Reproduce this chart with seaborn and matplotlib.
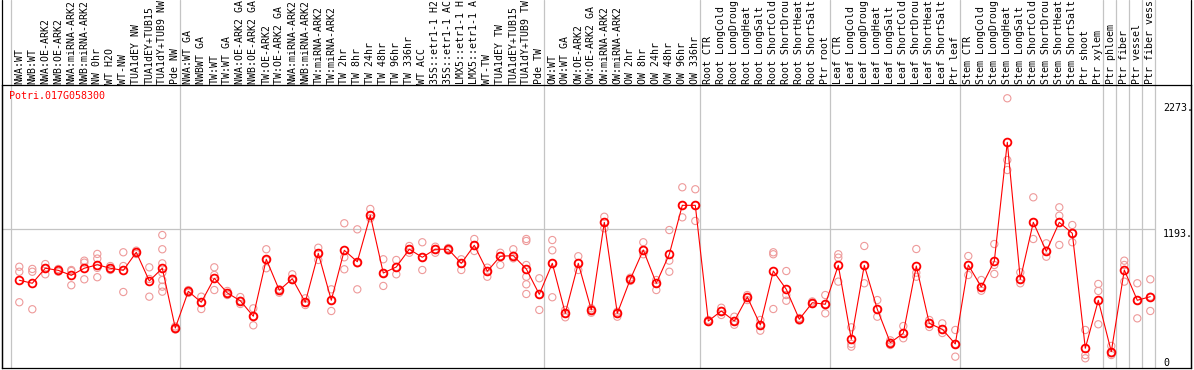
import numpy as np
import pandas as pd
import matplotlib
matplotlib.use("Agg")
import matplotlib.pyplot as plt
import matplotlib.transforms as mtransforms
import seaborn as sns

# ---------------- data ----------------
title = "Potri.017G058300"

# header labels as far as they are visible in the reference (cut at the top edge)
labels = [
    "NWA:WT", "NWB:WT", "NWA:OE-ARK2", "NWB:OE-ARK2", "NWA:miRNA-ARK2", "NWB:miRNA-ARK2",
    "NW 0hr", "WT H2O", "WT-NW", "TUA1dEY NW", "TUA1dEY+TUB15", "TUA1dY+TUB9 NW", "Pde NW",
    "NWA:WT GA", "NWBWT GA", "TW:WT", "TW:WT GA", "NWA:OE-ARK2 GA", "NWB:OE-ARK2 GA",
    "TW:OE-ARK2", "TW:OE-ARK2 GA", "NWA:miRNA-ARK2", "NWB:miRNA-ARK2", "TW:miRNA-ARK2",
    "TW:miRNA-ARK2", "TW 2hr", "TW 8hr", "TW 24hr", "TW 48hr", "TW 96hr", "TW 336hr",
    "WT ACC", "35S::etr1-1 H2", "35S::etr1-1 AC", "LMX5::etr1-1 H", "LMX5::etr1-1 A",
    "WT-TW", "TUA1dEY TW", "TUA1dEY+TUB15", "TUA1dY+TUB9 TW", "Pde TW",
    "OW:WT", "OW:WT GA", "OW:OE-ARK2", "OW:OE-ARK2 GA", "OW:miRNA-ARK2", "OW:miRNA-ARK2",
    "OW 2hr", "OW 8hr", "OW 24hr", "OW 48hr", "OW 96hr", "OW 336hr",
    "Root CTR", "Root LongCold", "Root LongDroug", "Root LongHeat", "Root LongSalt",
    "Root ShortCold", "Root ShortDrou", "Root ShortHeat", "Root ShortSalt", "Ptr root",
    "Leaf CTR", "Leaf LongCold", "Leaf LongDroug", "Leaf LongHeat", "Leaf LongSalt",
    "Leaf ShortCold", "Leaf ShortDrou", "Leaf ShortHeat", "Leaf ShortSalt", "Ptr leaf",
    "Stem CTR", "Stem LongCold", "Stem LongDroug", "Stem LongHeat", "Stem LongSalt",
    "Stem ShortCold", "Stem ShortDrou", "Stem ShortHeat", "Stem ShortSalt", "Ptr shoot",
    "Ptr xylem", "Ptr phloem", "Ptr fiber", "Ptr vessel", "Ptr fiber vess",
]

group_starts = [0, 13, 41, 53, 63, 73, 84, 85, 86, 87, 88]

means = [
    749, 723, 852, 834, 791, 852, 882, 852, 834, 989, 743, 852, 339,
    654, 560, 766, 640, 573, 440, 929, 663, 762, 560, 980, 577, 1006, 908, 1306, 811, 863,
    1015, 946, 1015, 1015, 894, 1049, 826, 955, 960, 846, 628,
    894, 465, 894, 494, 1246, 465, 757, 1009, 723, 972, 1392, 1392,
    399, 485, 399, 605, 365, 828, 671, 414, 556, 543,
    877, 242, 877, 500, 213, 294, 871, 379, 328, 202,
    880, 691, 912, 1933, 757, 1246, 997, 1246, 1152, 165, 577,
    136, 837, 577, 608,
]

replicates = [
    [865, 822, 560], [846, 822, 500], [888, 852, 800], [846, 834, 822], [837, 828, 706],
    [917, 900, 757], [975, 935, 855, 775], [871, 852, 837], [989, 871, 648], [1003, 989, 974],
    [860, 760, 608], [1137, 1015, 894, 814, 751, 694, 651], [352, 339, 326],
    [665, 654, 640], [608, 560, 502], [860, 794, 665], [657, 640, 622], [605, 573, 545],
    [508, 440, 362], [1015, 920, 852], [671, 663, 642], [800, 762, 751], [594, 560, 536],
    [1028, 980, 923], [671, 577, 485], [1238, 946, 843], [1186, 894, 671], [1361, 1306, 1281],
    [929, 811, 700], [923, 863, 800], [1043, 1015, 985], [1075, 946, 837], [1037, 1015, 985],
    [1026, 1015, 1004], [929, 894, 837], [1103, 1049, 1000], [857, 826, 779], [985, 955, 880],
    [1015, 960, 937], [1103, 1086, 880, 779, 714, 631], [766, 628, 494],
    [1094, 1006, 894, 603], [494, 465, 431], [955, 894, 837], [508, 494, 470],
    [1294, 1246, 1195], [479, 465, 436], [771, 757, 743], [1075, 1009, 972], [751, 723, 665],
    [1180, 917, 822], [1547, 1392, 1289], [1530, 1392, 1258],
    [408, 399, 391], [513, 485, 451], [436, 399, 367], [622, 605, 579], [408, 365, 316],
    [989, 972, 502], [828, 622, 573], [425, 414, 403], [567, 556, 545], [622, 543, 465],
    [972, 943, 737], [345, 202, 179], [1043, 871, 723], [579, 500, 436], [233, 213, 193],
    [356, 294, 251], [1017, 814, 779], [408, 379, 348], [379, 328, 296], [322, 202, 93],
    [957, 880, 794], [751, 691, 659], [1060, 880, 803], [2311, 1781, 1695], [817, 757, 723],
    [1461, 1246, 1103], [1066, 997, 951], [1375, 1303, 1052], [1223, 1152, 1075],
    [322, 107, 79], [717, 657, 371],
    [185, 122, 107], [917, 880, 737], [723, 577, 422], [757, 608, 485],
]

y_labels = ["2273.", "1193.", "0"]
y_label_values = [2273, 1193, 0]
ref_line_value = 1193

# ---------------- layout ----------------
sns.set_style("white")
plt.rcParams["font.family"] = ["DejaVu Sans Mono", "DejaVu Sans"]

W, H = 1194, 370
fig = plt.figure(figsize=(W / 100, H / 100), dpi=100)
left_px, right_px, top_px, bot_px = 1.5, 1190.7, 85.0, 368.0
ax = fig.add_axes([left_px / W, (H - bot_px) / H,
                   (right_px - left_px) / W, (bot_px - top_px) / H])

x0_px, step_px = 19.3, 13.0
ax.set_xlim((left_px - x0_px) / step_px, (right_px - x0_px) / step_px)
zero_px, y_scale = 367.5, 0.1165
ax.set_ylim((zero_px - bot_px) / y_scale, (zero_px - top_px) / y_scale)

for s in ax.spines.values():
    s.set_color("black")
    s.set_linewidth(0.9)

grid_col = "#c4c4c4"
ext = bot_px / (bot_px - top_px)  # reach the top of the figure

# group separators
sep_x = [g - 8.3 / step_px for g in group_starts]
for sx in sep_x:
    ax.axvline(sx, ymin=0, ymax=ext, color=grid_col, lw=0.9, clip_on=False, zorder=0)

# horizontal reference line
ax.hlines(ref_line_value, ax.get_xlim()[0], sep_x[-1], color=grid_col, lw=0.9, zorder=0)

# outer borders through the header
xl = ax.get_xlim()
for bx in xl:
    ax.axvline(bx, ymin=0, ymax=ext, color="black", lw=0.9, clip_on=False, zorder=5)

# ---------------- data marks ----------------
rep_x, rep_v = [], []
for i, reps in enumerate(replicates):
    for v in reps:
        rep_x.append(i)
        rep_v.append(v)
df_rep = pd.DataFrame({"x": rep_x, "value": rep_v})
df_mean = pd.DataFrame({"x": np.arange(len(means)), "value": means})

pink = "#ee9a9a"
sns.scatterplot(data=df_rep, x="x", y="value", marker="o", s=27,
                color=pink, facecolor="none", edgecolor=pink, linewidth=0.8,
                ax=ax, zorder=2, legend=False)
sns.lineplot(data=df_mean, x="x", y="value", color="#ff0000", lw=0.8,
             marker="o", markersize=5.6, markerfacecolor="none",
             markeredgecolor="#ff0000", markeredgewidth=1.3,
             ax=ax, zorder=3, legend=False)
ax.set_xlabel("")
ax.set_ylabel("")
ax.set_xticks([])
ax.set_yticks([])

# ---------------- texts ----------------
fs = 7.1
trans_hdr = mtransforms.blended_transform_factory(ax.transData, ax.transAxes)
for i, lab in enumerate(labels):
    ax.text(i, 1 + 1.2 / (bot_px - top_px), lab, transform=trans_hdr, rotation=90,
            ha="center", va="bottom", fontsize=fs, color="black", clip_on=False)

fig.text(9.5 / W, (H - 91) / H, title, color="#ff0000", fontsize=7.2,
         ha="left", va="top")

trans_y = mtransforms.blended_transform_factory(fig.transFigure, ax.transData)
for lab, v in zip(y_labels, y_label_values):
    va = "bottom" if v == 0 else "top"
    ax.text(1163 / W, v, lab, transform=trans_y, ha="left", va=va,
            fontsize=7.2, color="black", clip_on=False)

fig.savefig("out.png", dpi=100, facecolor="white")
